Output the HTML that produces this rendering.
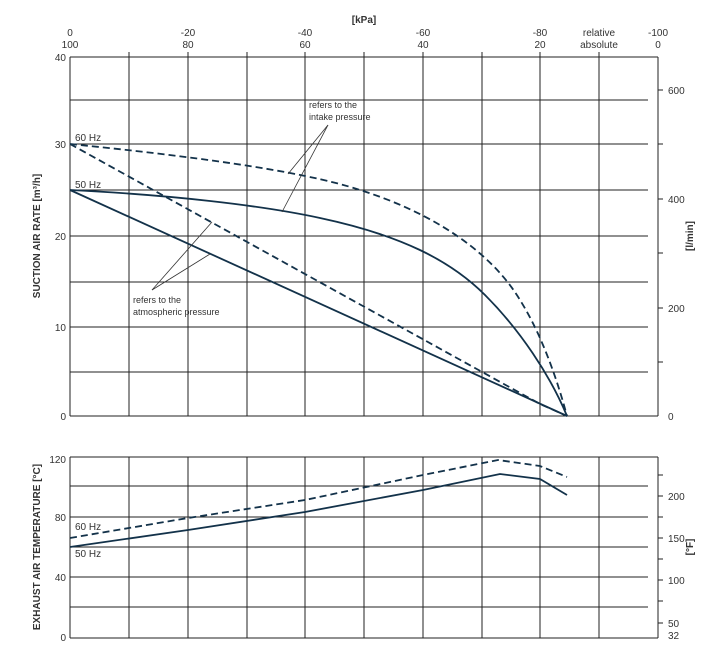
<!DOCTYPE html>
<html><head><meta charset="utf-8"><style>body{margin:0;background:#fff}svg{display:block}text{font-family:"Liberation Sans",sans-serif;fill:#333}</style></head>
<body>
<svg width="720" height="653" viewBox="0 0 720 653">
<rect width="720" height="653" fill="#fff"/>
<g stroke="#222" stroke-width="1" fill="none">
<!-- upper plot -->
<line x1="70" y1="57" x2="658" y2="57"/><line x1="70" y1="57" x2="70" y2="416"/><line x1="658" y1="57" x2="658" y2="416"/><line x1="70" y1="416" x2="658" y2="416"/>
<g><line x1="70" y1="100" x2="648" y2="100"/><line x1="70" y1="144" x2="648" y2="144"/><line x1="70" y1="190" x2="648" y2="190"/><line x1="70" y1="236" x2="648" y2="236"/><line x1="70" y1="282" x2="648" y2="282"/><line x1="70" y1="327" x2="648" y2="327"/><line x1="70" y1="372" x2="648" y2="372"/></g>
<g><line x1="129" y1="52" x2="129" y2="416"/><line x1="188" y1="52" x2="188" y2="416"/><line x1="247" y1="52" x2="247" y2="416"/><line x1="305" y1="52" x2="305" y2="416"/><line x1="364" y1="52" x2="364" y2="416"/><line x1="423" y1="52" x2="423" y2="416"/><line x1="482" y1="52" x2="482" y2="416"/><line x1="540" y1="52" x2="540" y2="416"/><line x1="599" y1="52" x2="599" y2="416"/></g>
<g><line x1="658" y1="90" x2="663" y2="90"/><line x1="658" y1="144" x2="663" y2="144"/><line x1="658" y1="199" x2="663" y2="199"/><line x1="658" y1="253" x2="663" y2="253"/><line x1="658" y1="308" x2="663" y2="308"/><line x1="658" y1="362" x2="663" y2="362"/></g>
<!-- lower plot -->
<line x1="70" y1="457" x2="658" y2="457"/><line x1="70" y1="457" x2="70" y2="638"/><line x1="658" y1="457" x2="658" y2="638"/><line x1="70" y1="638" x2="658" y2="638"/>
<g><line x1="70" y1="486" x2="648" y2="486"/><line x1="70" y1="517" x2="648" y2="517"/><line x1="70" y1="547" x2="648" y2="547"/><line x1="70" y1="577" x2="648" y2="577"/><line x1="70" y1="607" x2="648" y2="607"/></g>
<g><line x1="129" y1="457" x2="129" y2="638"/><line x1="188" y1="457" x2="188" y2="638"/><line x1="247" y1="457" x2="247" y2="638"/><line x1="305" y1="457" x2="305" y2="638"/><line x1="364" y1="457" x2="364" y2="638"/><line x1="423" y1="457" x2="423" y2="638"/><line x1="482" y1="457" x2="482" y2="638"/><line x1="540" y1="457" x2="540" y2="638"/><line x1="599" y1="457" x2="599" y2="638"/></g>
<g><line x1="658" y1="475" x2="663" y2="475"/><line x1="658" y1="496" x2="663" y2="496"/><line x1="658" y1="517" x2="663" y2="517"/><line x1="658" y1="538" x2="663" y2="538"/><line x1="658" y1="559" x2="663" y2="559"/><line x1="658" y1="580" x2="663" y2="580"/><line x1="658" y1="601" x2="663" y2="601"/><line x1="658" y1="623" x2="663" y2="623"/></g>
</g>
<!-- curves -->
<g stroke="#13324a" stroke-width="1.8" fill="none">
<path d="M70,144 C180,155 300,170 360,190 C430,212 490,250 520,300 C545,340 560,390 567,416" stroke-dasharray="7,4"/>
<path d="M70,190 C170,195 260,205 320,218 C400,235 450,260 485,295 C520,330 550,375 567,416"/>
<path d="M70,144 L540,404 L567,416" stroke-dasharray="7,4"/>
<path d="M70,190 L567,416"/>
<path d="M70,538 L188,518 L305,500 L423,475 L498,460 L540,466 L567,477" stroke-dasharray="7,4"/>
<path d="M70,547 L188,530 L305,512 L423,490 L500,474 L540,479 L567,495"/>
</g>
<g stroke="#333" stroke-width="0.8" fill="none">
<line x1="328" y1="125" x2="288" y2="174"/><line x1="328" y1="125" x2="282" y2="212"/>
<line x1="152" y1="290" x2="212" y2="222"/><line x1="152" y1="290" x2="210" y2="254"/>
</g>
<!-- labels -->
<g font-size="10" text-anchor="middle">
<text x="364" y="23" font-weight="bold" fill="#222">[kPa]</text>
<text x="70" y="36">0</text><text x="70" y="48">100</text>
<text x="188" y="36">-20</text><text x="188" y="48">80</text>
<text x="305" y="36">-40</text><text x="305" y="48">60</text>
<text x="423" y="36">-60</text><text x="423" y="48">40</text>
<text x="540" y="36">-80</text><text x="540" y="48">20</text>
<text x="599" y="36">relative</text><text x="599" y="48">absolute</text>
<text x="658" y="36">-100</text><text x="658" y="48">0</text>
</g>
<g font-size="10" text-anchor="end">
<text x="66" y="61">40</text><text x="66" y="148">30</text><text x="66" y="240">20</text><text x="66" y="331">10</text><text x="66" y="420">0</text>
<text x="66" y="463">120</text><text x="66" y="521">80</text><text x="66" y="581">40</text><text x="66" y="641">0</text>
</g>
<g font-size="10">
<text x="668" y="94">600</text><text x="668" y="203">400</text><text x="668" y="312">200</text><text x="668" y="420">0</text>
<text x="668" y="500">200</text><text x="668" y="542">150</text><text x="668" y="584">100</text><text x="668" y="627">50</text><text x="668" y="639">32</text>
<text x="75" y="141" fill="#555">60 Hz</text><text x="75" y="188" fill="#555">50 Hz</text>
<text x="75" y="530" fill="#555">60 Hz</text><text x="75" y="557" fill="#555">50 Hz</text>
</g>
<g font-size="9" fill="#555">
<text x="309" y="108">refers to the</text><text x="309" y="120">intake pressure</text>
<text x="133" y="303">refers to the</text><text x="133" y="315">atmospheric pressure</text>
</g>
<g font-size="10" font-weight="bold" text-anchor="middle">
<text transform="translate(40,236) rotate(-90)" fill="#222">SUCTION AIR RATE  [m³/h]</text>
<text transform="translate(40,547) rotate(-90)" fill="#222">EXHAUST AIR TEMPERATURE  [°C]</text>
<text transform="translate(693,236) rotate(-90)" fill="#222">[l/min]</text>
<text transform="translate(693,547) rotate(-90)" fill="#222">[°F]</text>
</g>
</svg>
</body></html>
